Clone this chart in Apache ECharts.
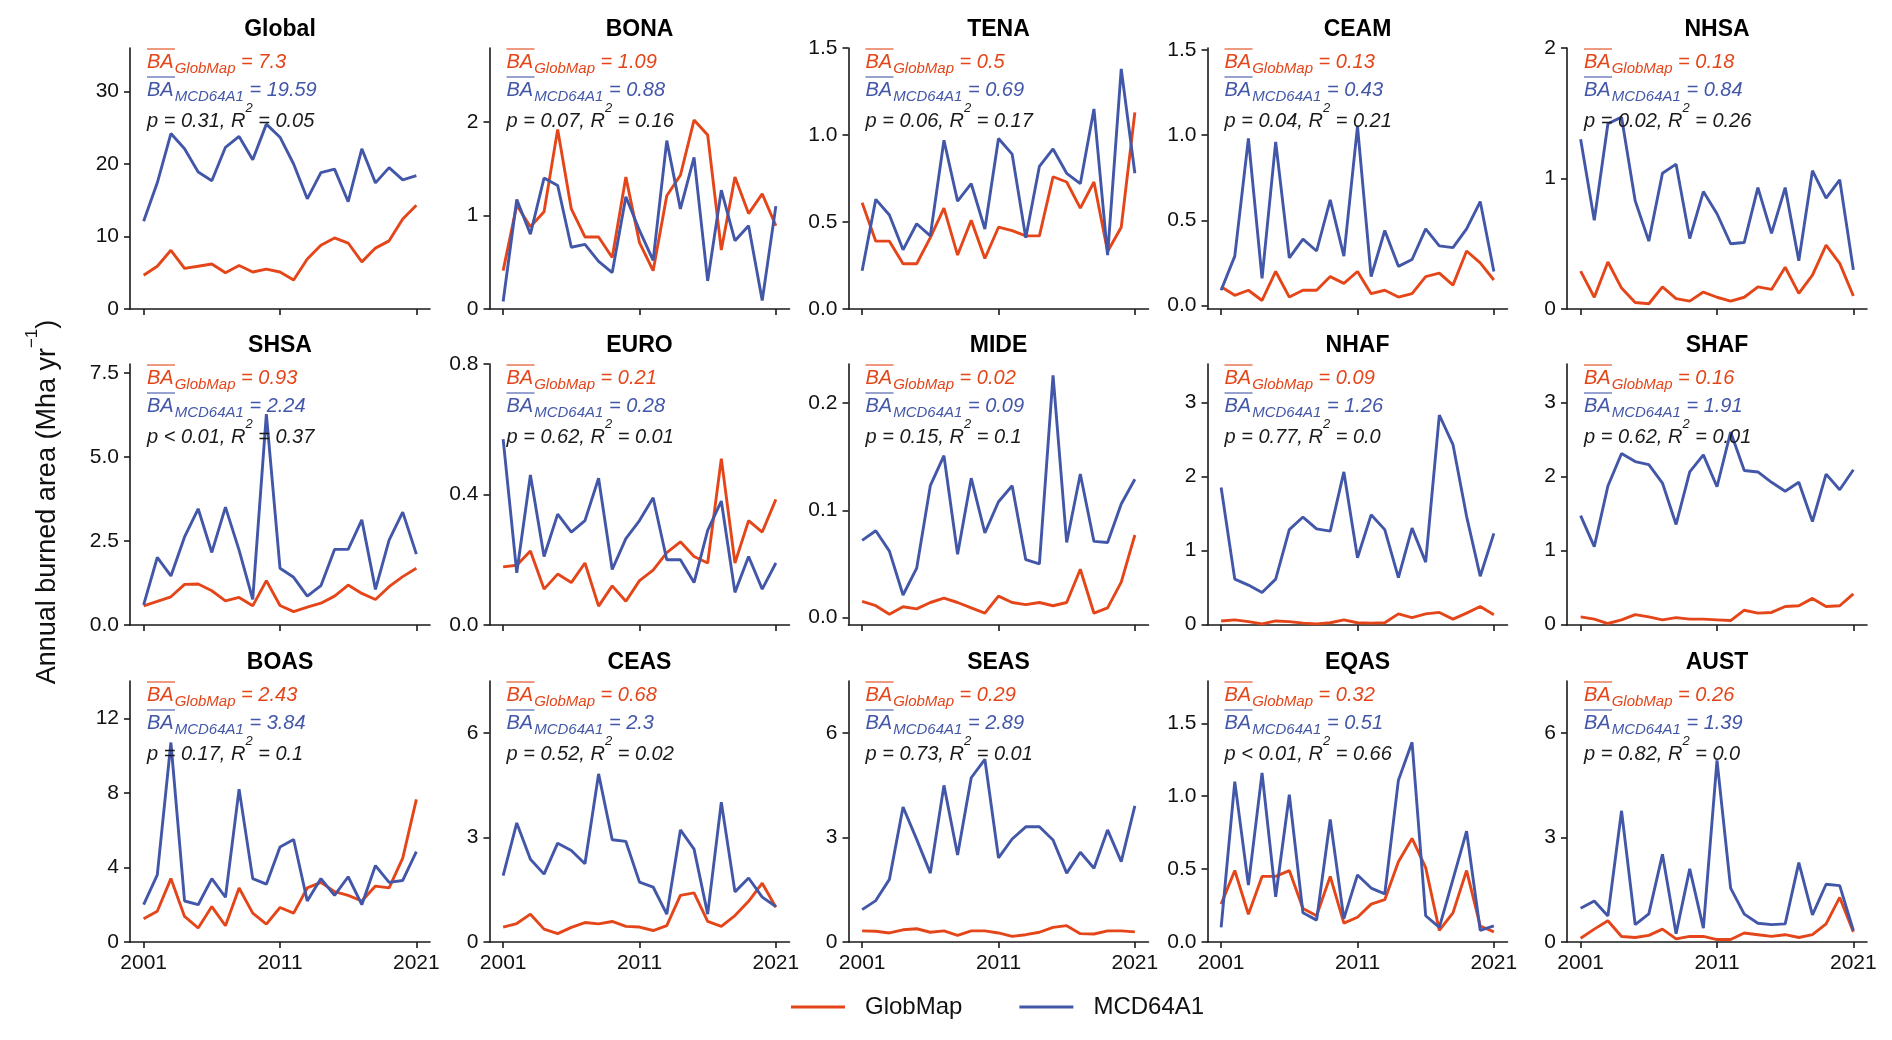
<!DOCTYPE html>
<html>
<head>
<meta charset="utf-8">
<script src="https://cdn.jsdelivr.net/npm/echarts@6/dist/echarts.min.js"></script>
<style>
html,body{margin:0;padding:0;background:#ffffff;}
#chart{width:1892px;height:1040px;}
</style>
</head>
<body>
<div id="chart"></div>
<script>
// ---------------- data ----------------
const years = [2001,2002,2003,2004,2005,2006,2007,2008,2009,2010,2011,2012,2013,2014,2015,2016,2017,2018,2019,2020,2021];
const regions = ['Global','BONA','TENA','CEAM','NHSA','SHSA','EURO','MIDE','NHAF','SHAF','BOAS','CEAS','SEAS','EQAS','AUST'];
const seriesNames = ['GlobMap','MCD64A1'];
const xTicks = [2001, 2011, 2021];

const globalGlobMap = [4.65,5.9,8.1,5.6,5.9,6.2,5.0,6.0,5.1,5.5,5.1,4.0,6.9,8.8,9.8,9.1,6.5,8.4,9.4,12.4,14.3];
const globalMCD64A1 = [12.1,17.4,24.2,22.1,18.9,17.7,22.3,23.8,20.6,25.5,23.7,20.0,15.2,18.8,19.3,14.8,22.1,17.4,19.5,17.8,18.4];
const bonaGlobMap = [0.41,1.11,0.88,1.04,1.92,1.07,0.77,0.77,0.55,1.41,0.71,0.41,1.21,1.43,2.02,1.86,0.63,1.41,1.02,1.23,0.89];
const bonaMCD64A1 = [0.08,1.17,0.80,1.40,1.32,0.66,0.69,0.51,0.39,1.20,0.84,0.52,1.80,1.07,1.62,0.30,1.27,0.73,0.89,0.09,1.10];
const tenaGlobMap = [0.61,0.39,0.39,0.26,0.26,0.41,0.58,0.31,0.51,0.29,0.47,0.45,0.42,0.42,0.76,0.73,0.58,0.73,0.33,0.47,1.13];
const tenaMCD64A1 = [0.22,0.63,0.54,0.34,0.49,0.42,0.97,0.62,0.72,0.46,0.98,0.89,0.41,0.82,0.92,0.78,0.72,1.15,0.31,1.38,0.78];
const ceamGlobMap = [0.11,0.06,0.09,0.03,0.20,0.05,0.09,0.09,0.17,0.13,0.20,0.07,0.09,0.05,0.07,0.17,0.19,0.12,0.32,0.25,0.15];
const ceamMCD64A1 = [0.09,0.29,0.98,0.16,0.96,0.28,0.39,0.32,0.62,0.29,1.05,0.17,0.44,0.23,0.27,0.45,0.35,0.34,0.45,0.61,0.20];
const nhsaGlobMap = [0.29,0.09,0.36,0.16,0.05,0.04,0.17,0.08,0.06,0.13,0.09,0.06,0.09,0.17,0.15,0.32,0.12,0.26,0.49,0.35,0.10];
const nhsaMCD64A1 = [1.30,0.68,1.42,1.47,0.83,0.52,1.04,1.11,0.54,0.90,0.73,0.50,0.51,0.93,0.58,0.93,0.37,1.06,0.85,0.99,0.30];
const shsaGlobMap = [0.57,0.70,0.84,1.21,1.22,1.02,0.72,0.82,0.57,1.32,0.58,0.40,0.53,0.65,0.86,1.19,0.94,0.76,1.14,1.44,1.69];
const shsaMCD64A1 = [0.60,2.01,1.46,2.62,3.46,2.16,3.51,2.23,0.76,6.28,1.69,1.42,0.86,1.17,2.25,2.25,3.13,1.06,2.53,3.36,2.11];
const euroGlobMap = [0.178,0.183,0.227,0.11,0.156,0.13,0.19,0.058,0.12,0.073,0.136,0.168,0.222,0.255,0.21,0.19,0.51,0.19,0.32,0.285,0.385];
const euroMCD64A1 = [0.57,0.16,0.46,0.21,0.34,0.285,0.32,0.45,0.17,0.265,0.32,0.39,0.20,0.20,0.13,0.29,0.38,0.10,0.21,0.11,0.19];
const mideGlobMap = [0.015,0.011,0.003,0.010,0.008,0.014,0.018,0.014,0.009,0.004,0.020,0.014,0.012,0.014,0.011,0.014,0.045,0.004,0.009,0.033,0.077];
const mideMCD64A1 = [0.072,0.081,0.062,0.021,0.046,0.123,0.151,0.059,0.130,0.079,0.108,0.123,0.054,0.050,0.226,0.070,0.134,0.071,0.070,0.106,0.129];
const nhafGlobMap = [0.045,0.06,0.035,0.005,0.045,0.035,0.015,0.005,0.02,0.06,0.02,0.015,0.02,0.14,0.09,0.14,0.16,0.07,0.15,0.24,0.13];
const nhafMCD64A1 = [1.85,0.61,0.53,0.43,0.61,1.28,1.45,1.29,1.26,2.06,0.90,1.48,1.28,0.63,1.30,0.84,2.83,2.43,1.46,0.65,1.23];
const shafGlobMap = [0.10,0.07,0.01,0.06,0.13,0.10,0.06,0.09,0.07,0.07,0.06,0.05,0.19,0.15,0.16,0.24,0.25,0.35,0.24,0.25,0.41];
const shafMCD64A1 = [1.47,1.05,1.87,2.31,2.20,2.16,1.91,1.35,2.06,2.29,1.86,2.60,2.08,2.06,1.92,1.80,1.92,1.39,2.03,1.82,2.09];
const boasGlobMap = [1.25,1.65,3.4,1.37,0.75,1.9,0.87,2.9,1.55,0.96,1.85,1.55,2.9,3.2,2.7,2.5,2.2,3.0,2.9,4.5,7.65];
const boasMCD64A1 = [2.0,3.6,10.7,2.2,2.0,3.4,2.4,8.2,3.4,3.1,5.1,5.5,2.2,3.4,2.5,3.5,2.0,4.1,3.2,3.3,4.85];
const ceasGlobMap = [0.43,0.53,0.80,0.37,0.24,0.42,0.56,0.52,0.59,0.45,0.43,0.33,0.47,1.34,1.41,0.59,0.45,0.76,1.17,1.69,1.00];
const ceasMCD64A1 = [1.91,3.42,2.38,1.95,2.84,2.63,2.25,4.83,2.94,2.89,1.72,1.58,0.80,3.22,2.67,0.80,4.02,1.44,1.84,1.29,1.02];
const seasGlobMap = [0.32,0.31,0.26,0.35,0.38,0.28,0.32,0.19,0.32,0.32,0.26,0.16,0.21,0.28,0.42,0.47,0.24,0.23,0.32,0.32,0.29];
const seasMCD64A1 = [0.93,1.19,1.80,3.88,2.95,1.98,4.50,2.50,4.72,5.25,2.42,2.96,3.31,3.31,2.93,1.98,2.58,2.12,3.22,2.31,3.91];
const eqasGlobMap = [0.26,0.49,0.19,0.45,0.45,0.49,0.23,0.18,0.45,0.13,0.17,0.26,0.29,0.55,0.71,0.51,0.08,0.20,0.49,0.11,0.07];
const eqasMCD64A1 = [0.10,1.10,0.39,1.16,0.31,1.01,0.20,0.15,0.84,0.16,0.46,0.37,0.33,1.11,1.37,0.18,0.10,0.43,0.76,0.08,0.11];
const austGlobMap = [0.11,0.37,0.61,0.16,0.13,0.19,0.37,0.09,0.16,0.16,0.07,0.07,0.26,0.21,0.16,0.21,0.13,0.21,0.52,1.28,0.29];
const austMCD64A1 = [0.97,1.18,0.75,3.77,0.50,0.81,2.52,0.24,2.10,0.40,5.22,1.55,0.80,0.54,0.50,0.52,2.28,0.78,1.66,1.62,0.33];

const globMapSeries = [globalGlobMap,bonaGlobMap,tenaGlobMap,ceamGlobMap,nhsaGlobMap,shsaGlobMap,euroGlobMap,mideGlobMap,nhafGlobMap,shafGlobMap,boasGlobMap,ceasGlobMap,seasGlobMap,eqasGlobMap,austGlobMap];
const mcdSeries = [globalMCD64A1,bonaMCD64A1,tenaMCD64A1,ceamMCD64A1,nhsaMCD64A1,shsaMCD64A1,euroMCD64A1,mideMCD64A1,nhafMCD64A1,shafMCD64A1,boasMCD64A1,ceasMCD64A1,seasMCD64A1,eqasMCD64A1,austMCD64A1];

const yMin = [0,0,0,-0.02,0, 0,0,-0.007,-0.01,-0.01, 0,0,0,0,0];
const yMax = [36,2.79,1.5,1.51,2.0, 7.77,0.8,0.2366,3.52,3.52, 14,7.5,7.5,1.79,7.5];
const yTicks = [[0,10,20,30],[0,1,2],[0,0.5,1,1.5],[0,0.5,1,1.5],[0,1,2],
                [0,2.5,5,7.5],[0,0.4,0.8],[0,0.1,0.2],[0,1,2,3],[0,1,2,3],
                [0,4,8,12],[0,3,6],[0,3,6],[0,0.5,1,1.5],[0,3,6]];
const yDecimals = [0,0,1,1,0, 1,1,1,0,0, 0,0,0,1,0];

const meanGlobMap = ['7.3','1.09','0.5','0.13','0.18','0.93','0.21','0.02','0.09','0.16','2.43','0.68','0.29','0.32','0.26'];
const meanMCD64A1 = ['19.59','0.88','0.69','0.43','0.84','2.24','0.28','0.09','1.26','1.91','3.84','2.3','2.89','0.51','1.39'];
const pText = ['p = 0.31','p = 0.07','p = 0.06','p = 0.04','p = 0.02','p < 0.01','p = 0.62','p = 0.15','p = 0.77','p = 0.62','p = 0.17','p = 0.52','p = 0.73','p < 0.01','p = 0.82'];
const r2Text = ['0.05','0.16','0.17','0.21','0.26','0.37','0.01','0.1','0.0','0.01','0.1','0.02','0.01','0.66','0.0'];

// ---------------- layout & style ----------------
const FONT = '"Liberation Sans", Arial, Helvetica, sans-serif';
const ORANGE = '#e4461a';
const BLUE = '#4357a8';
const AXIS = '#1a1a1a';
const colLeft = [130, 489.5, 848.5, 1207.5, 1567];
const rowTop = [48, 364, 681];
const GW = 300, GH = 261;

const grids = [], xAxes = [], yAxes = [], series = [], graphics = [];

function richLine(color) {
  return {
    ba: {fill: color, color: color, fontSize: 20, fontStyle: 'italic', fontFamily: FONT, lineHeight: 22, verticalAlign: 'top'},
    sub: {fill: color, color: color, fontSize: 15, fontStyle: 'italic', fontFamily: FONT, lineHeight: 16, padding: [9, 0, 0, 1], verticalAlign: 'top'},
    eq: {fill: color, color: color, fontSize: 20, fontStyle: 'italic', fontFamily: FONT, lineHeight: 22, verticalAlign: 'top'}
  };
}

regions.forEach(function (name, i) {
  const r = Math.floor(i / 5), c = i % 5;
  const left = colLeft[c], top = rowTop[r];
  grids.push({left: left, top: top, width: GW, height: GH, containLabel: false});
  xAxes.push({
    type: 'value', gridIndex: i, min: 2000, max: 2022,
    splitLine: {show: false},
    axisLine: {show: true, onZero: false, lineStyle: {color: AXIS, width: 1.6}},
    axisTick: {show: true, length: 6, customValues: xTicks, lineStyle: {color: AXIS, width: 1.6}},
    axisLabel: {show: r === 2, customValues: xTicks, margin: 11, fontSize: 21, color: '#111', fontFamily: FONT,
                formatter: function (v) { return String(v); }}
  });
  const dec = yDecimals[i];
  yAxes.push({
    type: 'value', gridIndex: i, min: yMin[i], max: yMax[i],
    splitLine: {show: false},
    axisLine: {show: true, onZero: false, lineStyle: {color: AXIS, width: 1.6}},
    axisTick: {show: true, length: 6, customValues: yTicks[i], lineStyle: {color: AXIS, width: 1.6}},
    axisLabel: {customValues: yTicks[i], margin: 11, fontSize: 21, color: '#111', fontFamily: FONT,
                formatter: function (v) { return Number(v).toFixed(dec); }}
  });
  series.push({
    type: 'line', name: seriesNames[0], xAxisIndex: i, yAxisIndex: i,
    data: years.map(function (y, k) { return [y, globMapSeries[i][k]]; }),
    symbol: 'none', showSymbol: false, z: 2,
    lineStyle: {color: ORANGE, width: 2.9}, itemStyle: {color: ORANGE}
  });
  series.push({
    type: 'line', name: seriesNames[1], xAxisIndex: i, yAxisIndex: i,
    data: years.map(function (y, k) { return [y, mcdSeries[i][k]]; }),
    symbol: 'none', showSymbol: false, z: 3,
    lineStyle: {color: BLUE, width: 2.9}, itemStyle: {color: BLUE}
  });

  // panel title
  graphics.push({
    type: 'text', x: left + GW / 2, y: top - 18, z: 10,
    style: {text: name, fill: '#000', font: 'bold 23px ' + FONT,
            align: 'center', verticalAlign: 'middle', textAlign: 'center', textVerticalAlign: 'middle'}
  });
  // annotations
  const tx = left + 17;
  graphics.push({
    type: 'text', x: tx, y: top + 4, z: 10,
    style: {text: '{ba|BA}{sub|GlobMap}{eq| = ' + meanGlobMap[i] + '}', rich: richLine(ORANGE),
            align: 'left', verticalAlign: 'top', textAlign: 'left', textVerticalAlign: 'top'}
  });
  graphics.push({
    type: 'text', x: tx, y: top + 32, z: 10,
    style: {text: '{ba|BA}{sub|MCD64A1}{eq| = ' + meanMCD64A1[i] + '}', rich: richLine(BLUE),
            align: 'left', verticalAlign: 'top', textAlign: 'left', textVerticalAlign: 'top'}
  });
  graphics.push({
    type: 'line', z: 10,
    shape: {x1: tx, y1: top + 1, x2: tx + 28, y2: top + 1},
    style: {stroke: ORANGE, lineWidth: 1.3, opacity: 0.85}
  });
  graphics.push({
    type: 'line', z: 10,
    shape: {x1: tx, y1: top + 29, x2: tx + 28, y2: top + 29},
    style: {stroke: BLUE, lineWidth: 1.3, opacity: 0.85}
  });
  const k = {fill: '#1a1a1a', color: '#1a1a1a', fontSize: 20, fontStyle: 'italic', fontFamily: FONT, lineHeight: 30, padding: [9, 0, 0, 0], verticalAlign: 'top'};
  graphics.push({
    type: 'text', x: tx, y: top + 54, z: 10,
    style: {text: '{m|' + pText[i] + ', R}{s|2}{m| = ' + r2Text[i] + '}',
            rich: {
              m: k,
              s: {fill: '#1a1a1a', color: '#1a1a1a', fontSize: 13, fontStyle: 'italic', fontFamily: FONT, lineHeight: 14, verticalAlign: 'top'}
            },
            align: 'left', verticalAlign: 'top', textAlign: 'left', textVerticalAlign: 'top'}
  });
});

// y-axis label
graphics.push({
  type: 'text', x: 43, y: 502, rotation: Math.PI / 2, z: 10,
  style: {
    text: '{m|Annual burned area (Mha yr}{s|−1}{m|)}',
    rich: {
      m: {fill: '#111', color: '#111', fontSize: 27, fontFamily: FONT, lineHeight: 38, padding: [10, 0, 0, 0], verticalAlign: 'top'},
      s: {fill: '#111', color: '#111', fontSize: 17, fontFamily: FONT, lineHeight: 17, verticalAlign: 'top'}
    },
    align: 'center', verticalAlign: 'middle', textAlign: 'center', textVerticalAlign: 'middle'
  }
});

const option = {
  animation: false,
  backgroundColor: '#ffffff',
  textStyle: {fontFamily: FONT},
  grid: grids,
  xAxis: xAxes,
  yAxis: yAxes,
  series: series,
  legend: {
    data: seriesNames, left: 791, top: 995, padding: 0,
    icon: 'rect', itemWidth: 54, itemHeight: 3, itemGap: 57,
    textStyle: {fontSize: 24, color: '#111', fontFamily: FONT, padding: [0, 0, 0, 15]}
  },
  graphic: graphics
};

const chart = echarts.init(document.getElementById('chart'), null, {renderer: 'canvas'});
chart.setOption(option);
</script>
</body>
</html>
